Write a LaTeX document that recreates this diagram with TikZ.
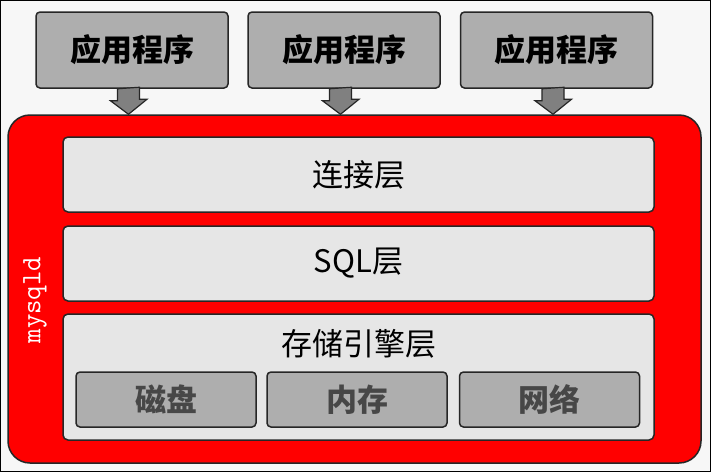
\documentclass[tikz,border=0pt]{standalone}
\usepackage{fontspec}
\setmainfont{Noto Sans CJK SC}
\usetikzlibrary{calc}
\definecolor{redfill}{HTML}{FF0000}
\definecolor{appgray}{HTML}{AEAEAE}
\definecolor{arrowgray}{HTML}{808080}
\definecolor{layerfill}{HTML}{E6E6E6}
\definecolor{edge}{HTML}{262626}
\definecolor{subtext}{HTML}{474747}
\tikzset{
  appbox/.style={draw=edge, line width=1.5pt, fill=appgray, rounded corners=4pt,
    minimum width=192pt, minimum height=76pt, inner sep=0pt,
    font=\fontsize{31}{33}\selectfont\bfseries},
  redbox/.style={draw=edge, line width=1.5pt, fill=redfill, rounded corners=22pt,
    minimum width=693pt, minimum height=348pt, inner sep=0pt},
  layerbox/.style={draw=edge, line width=1.5pt, fill=layerfill, rounded corners=5pt,
    minimum width=591pt, inner sep=0pt, font=\fontsize{31}{33}\selectfont},
  subbox/.style={draw=edge, line width=1.5pt, fill=appgray, rounded corners=4pt,
    minimum width=180pt, minimum height=55pt, inner sep=0pt,
    font=\fontsize{31}{33}\selectfont\bfseries, text=subtext},
  fatarrow/.style={draw=edge, line width=1.2pt, fill=arrowgray, line join=miter},
}
\begin{document}
\begin{tikzpicture}[x=1pt,y=-1pt]
\useasboundingbox (0,0) rectangle (711,472);
\fill[white!97!black] (0,0) rectangle (711,472);
\draw[black, line width=1.2pt] (0.6,0.6) rectangle (710.4,471.4);

% application boxes
\node[appbox] (app1) at (132,50) {应用程序};
\node[appbox] (app2) at (344,50) {应用程序};
\node[appbox] (app3) at (556.5,50) {应用程序};

% mysqld container
\node[redbox] (mysqld) at (354.5,289) {};

% arrows from applications to mysqld
\foreach \a in {app1,app2,app3}{
  \draw[fatarrow] ([xshift=-3.5pt]\a.south) ++(-11,0) -- ++(0,12) -- ++(-7,0)
    -- ([xshift=-3.5pt]\a.south |- mysqld.north) -- ++(18.5,-15) -- ++(-7.5,0)
    -- ++(0,-12) -- cycle;
}

% layers
\node[layerbox, minimum height=75pt] (conn) at (358.5,174.5) {连接层};
\node[layerbox, minimum height=75pt] (sql) at (358.5,263.5) {SQL层};
\node[layerbox, minimum height=126pt] (store) at (358.5,377) {};
\node[font=\fontsize{31}{33}\selectfont, inner sep=0pt] (storetitle) at (358.5,344) {存储引擎层};

\node[subbox] (disk) at (166,399.5) {磁盘};
\node[subbox] (mem) at (357,399.5) {内存};
\node[subbox] (net) at (549.5,399.5) {网络};

% mysqld label
\node[rotate=90, text=white, font=\ttfamily\fontsize{28}{30}\selectfont\addfontfeatures{LetterSpace=6,FakeBold=1.6}, inner sep=0pt] (label) at (35,300) {mysqld};
\end{tikzpicture}
\end{document}
